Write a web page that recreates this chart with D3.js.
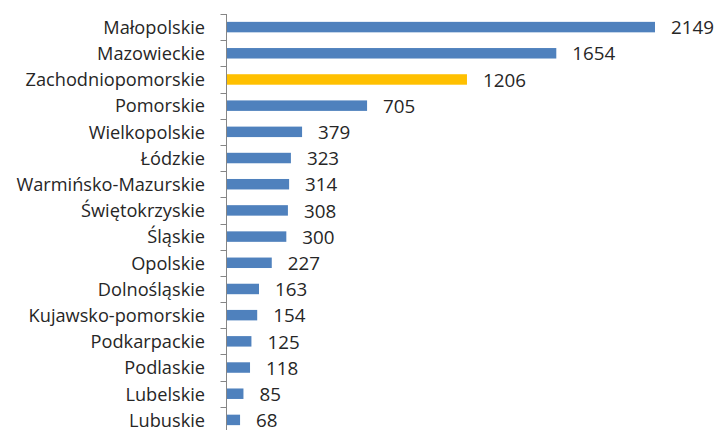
<!DOCTYPE html>
<html><head><meta charset="utf-8">
<script src="https://cdn.jsdelivr.net/npm/d3@7"></script>
<style>body{margin:0;background:#fff}text{font-family:"Open Sans",sans-serif}</style>
</head><body><svg id="c" width="717" height="430"></svg>
<script>
const categories = ["Małopolskie","Mazowieckie","Zachodniopomorskie","Pomorskie","Wielkopolskie","Łódzkie","Warmińsko-Mazurskie","Świętokrzyskie","Śląskie","Opolskie","Dolnośląskie","Kujawsko-pomorskie","Podkarpackie","Podlaskie","Lubelskie","Lubuskie"];
const values = [2149,1654,1206,705,379,323,314,308,300,227,163,154,125,118,85,68];
const highlight = ["Zachodniopomorskie"];

const svg = d3.select("#c");
const x0 = 226.5;
const x = d3.scaleLinear().domain([0, 2149]).range([x0, 655]);
const y = d3.scaleBand().domain(categories).range([14, 433]).paddingInner(0.6).paddingOuter(0.3);
const yb = d3.scaleBand().domain(categories).range([14, 433]);

svg.selectAll("rect.bar").data(categories).join("rect")
  .attr("x", x(0)).attr("y", d => y(d))
  .attr("width", (d,i) => x(values[i]) - x(0))
  .attr("height", y.bandwidth())
  .attr("fill", d => highlight.includes(d) ? "#FFC000" : "#4F81BD");

const g = svg.append("g").attr("transform", `translate(${x0},0)`);
g.append("line").attr("x1",0).attr("x2",0).attr("y1",14).attr("y2",433).attr("stroke","#868686");
const bounds = categories.map(c => yb(c)).concat([yb(categories[categories.length-1]) + yb.bandwidth()]);
g.selectAll("line.tb").data(bounds).join("line")
  .attr("x1", -6).attr("x2", 0)
  .attr("y1", d => Math.round(d)+0.5).attr("y2", d => Math.round(d)+0.5)
  .attr("stroke", "#868686");

svg.selectAll("text.cat").data(categories).join("text")
  .attr("x", 205).attr("y", d => yb(d) + yb.bandwidth()/2 + 6.8)
  .attr("text-anchor", "end")
  .attr("font-size", 18.2).attr("fill", "#262626")
  .text(d => d);

svg.selectAll("text.val").data(categories).join("text")
  .attr("x", (d,i) => x(values[i]) + 16).attr("y", d => yb(d) + yb.bandwidth()/2 + 7.2)
  .attr("font-size", 18.8).attr("fill", "#262626")
  .text((d,i) => values[i]);
</script></body></html>
